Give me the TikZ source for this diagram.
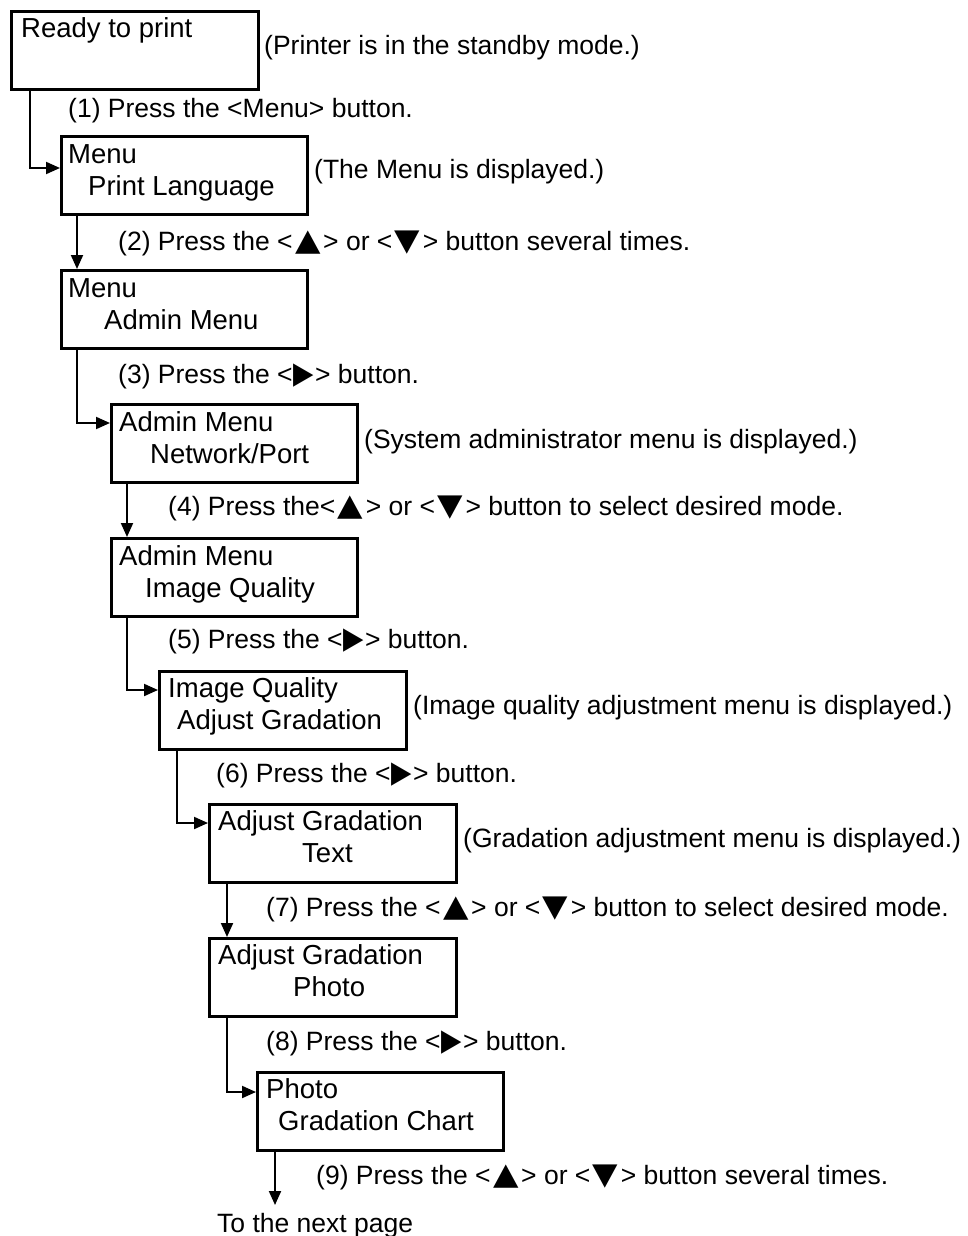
\documentclass[tikz,border=0pt]{standalone}
\usepackage{graphicx}
\usepackage{fontspec}
\setmainfont{Liberation Sans}
\newfontfamily\symf{DejaVu Sans}
\usetikzlibrary{arrows.meta}
\newcommand\TriUp{\hspace{2.5pt}\scalebox{1.25}[1.15]{\symf ▲}\hspace{2.5pt}}
\newcommand\TriDn{\hspace{2.5pt}\scalebox{1.25}[1.15]{\symf ▼}\hspace{2.5pt}}
\newcommand\TriRt{\hspace{1pt}\scalebox{1}[1.15]{\symf ▶}\hspace{1pt}}
\begin{document}
\begin{tikzpicture}[x=1pt,y=-1pt,
  box/.style={draw, line width=2.8pt, minimum width=246pt, minimum height=78pt, inner sep=0pt, anchor=north west},
  boxtxt/.style={anchor=base west, inner sep=0pt, font=\fontsize{27.5}{32}\selectfont},
  note/.style={anchor=base west, inner sep=0pt, font=\fontsize{26.5}{30}\selectfont},
  conn/.style={line width=2pt, -{Triangle[length=14pt,width=12pt]}}]
\useasboundingbox (0,0) rectangle (967,1236);

% boxes
\node[box, minimum width=247pt] (b1) at (10,10) {};
\node[box] (b2) at (60,135) {};
\node[box] (b3) at (60,269) {};
\node[box] (b4) at (110,403) {};
\node[box] (b5) at (110,537) {};
\node[box, minimum width=247pt] (b6) at (158,670) {};
\node[box, minimum width=247pt] (b7) at (208,803) {};
\node[box, minimum width=247pt] (b8) at (208,937) {};
\node[box] (b9) at (256,1071) {};

% box texts
\node[boxtxt] (t1) at (21,37.7) {Ready to print};
\node[boxtxt] (t2a) at (68,163) {Menu};
\node[boxtxt] (t2b) at (88,195) {Print Language};
\node[boxtxt] (t3a) at (68,297) {Menu};
\node[boxtxt] (t3b) at (104,329) {Admin Menu};
\node[boxtxt] (t4a) at (119,431) {Admin Menu};
\node[boxtxt] (t4b) at (150,463) {Network/Port};
\node[boxtxt] (t5a) at (119,565) {Admin Menu};
\node[boxtxt] (t5b) at (145,597) {Image Quality};
\node[boxtxt] (t6a) at (168,697) {Image Quality};
\node[boxtxt] (t6b) at (177,729) {Adjust Gradation};
\node[boxtxt] (t7a) at (218,830) {Adjust Gradation};
\node[boxtxt] (t7b) at (302,862) {Text};
\node[boxtxt] (t8a) at (218,964) {Adjust Gradation};
\node[boxtxt] (t8b) at (293,996) {Photo};
\node[boxtxt] (t9a) at (266,1098) {Photo};
\node[boxtxt] (t9b) at (278,1130) {Gradation Chart};

% annotations
\node[note] (n0) at (264,54.5) {(Printer is in the standby mode.)};
\node[note] (n1) at (68,117.5) {(1) Press the <Menu> button.};
\node[note] (n1r) at (314,178) {(The Menu is displayed.)};
\node[note] (n2) at (118,250) {(2) Press the <\TriUp> or <\TriDn> button several times.};
\node[note] (n3) at (118,383.5) {(3) Press the <\TriRt> button.};
\node[note] (n3r) at (364,448) {(System administrator menu is displayed.)};
\node[note] (n4) at (168,515.5) {(4) Press the<\TriUp> or <\TriDn> button to select desired mode.};
\node[note] (n5) at (168,648) {(5) Press the <\TriRt> button.};
\node[note] (n5r) at (413,714) {(Image quality adjustment menu is displayed.)};
\node[note] (n6) at (216,782) {(6) Press the <\TriRt> button.};
\node[note] (n6r) at (463,847) {(Gradation adjustment menu is displayed.)};
\node[note] (n7) at (266,916) {(7) Press the <\TriUp> or <\TriDn> button to select desired mode.};
\node[note] (n8) at (266,1050.5) {(8) Press the <\TriRt> button.};
\node[note] (n9) at (316,1184) {(9) Press the <\TriUp> or <\TriDn> button several times.};
\node[note] (next) at (217,1232) {To the next page};
\coordinate (nextpt) at (275,1205);

% connectors
\draw[conn] ([xshift=20pt]b1.south west) |- ([yshift=-33pt]b2.north west);
\draw[conn] ([xshift=17pt]b2.south west) -- ([xshift=17pt]b3.north west);
\draw[conn] ([xshift=17pt]b3.south west) |- ([yshift=-20pt]b4.north west);
\draw[conn] ([xshift=17pt]b4.south west) -- ([xshift=17pt]b5.north west);
\draw[conn] ([xshift=17pt]b5.south west) |- ([yshift=-20pt]b6.north west);
\draw[conn] ([xshift=19pt]b6.south west) |- ([yshift=-20pt]b7.north west);
\draw[conn] ([xshift=19pt]b7.south west) -- ([xshift=19pt]b8.north west);
\draw[conn] ([xshift=19pt]b8.south west) |- ([yshift=-21pt]b9.north west);
\draw[conn] ([xshift=19pt]b9.south west) -- (nextpt);
\end{tikzpicture}
\end{document}
